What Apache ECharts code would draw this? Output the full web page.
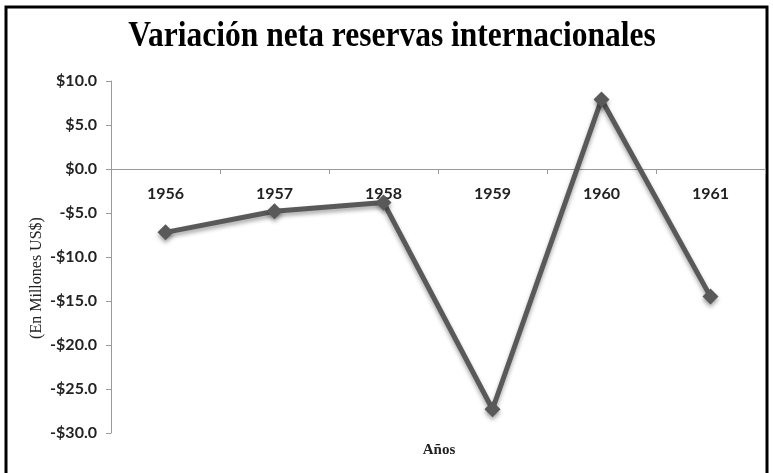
<!DOCTYPE html>
<html>
<head>
<meta charset="utf-8">
<script src="https://cdn.jsdelivr.net/npm/echarts@6/dist/echarts.min.js"></script>
<style>
  html, body { margin: 0; padding: 0; background: #fff; }
  #chart { width: 773px; height: 473px; }
</style>
</head>
<body>
<div id="chart"></div>
<script>
var years = ['1956', '1957', '1958', '1959', '1960', '1961'];
var variacion = [-7.2, -4.8, -3.8, -27.3, 7.9, -14.5];

var chart = echarts.init(document.getElementById('chart'));

function money(v) {
    return (v < 0 ? '-$' : '$') + Math.abs(v).toFixed(1);
}

chart.setOption({
    animation: false,
    backgroundColor: '#fff',
    grid: { left: 111, right: 8, top: 81, bottom: 40 },
    xAxis: {
        type: 'category',
        data: years,
        // the category axis sits on the zero line (264px above the grid bottom)
        offset: -264,
        axisLine: { onZero: false, lineStyle: { color: '#9a9a9a', width: 1 } },
        axisTick: { show: true, length: 5, lineStyle: { color: '#9a9a9a' } },
        axisLabel: {
            margin: 17,
            fontFamily: 'Lato',
            fontWeight: 'bold',
            fontSize: 16,
            color: '#222'
        },
        splitLine: { show: false }
    },
    yAxis: {
        type: 'value',
        min: -30,
        max: 10,
        interval: 5,
        axisLine: { show: true, lineStyle: { color: '#9a9a9a', width: 1 } },
        axisTick: { show: true, length: 5, lineStyle: { color: '#9a9a9a' } },
        axisLabel: {
            margin: 14,
            formatter: money,
            fontFamily: 'Lato',
            fontWeight: 'bold',
            fontSize: 16,
            color: '#222'
        },
        splitLine: { show: false }
    },
    graphic: [
        {
            type: 'rect',
            shape: { x: 6, y: 7, width: 761, height: 480 },
            style: { fill: null, stroke: '#000', lineWidth: 3 },
            silent: true
        },
        {
            // title, a bit condensed like the original
            type: 'text',
            x: 392,
            y: 37,
            scaleX: 0.9,
            style: {
                text: 'Variación neta reservas internacionales',
                fontFamily: 'Liberation Serif',
                fontWeight: 'bold',
                fontSize: 35,
                fill: '#000',
                align: 'center',
                verticalAlign: 'middle'
            }
        },
        {
            type: 'text',
            x: 37,
            y: 278,
            rotation: Math.PI / 2,
            style: {
                text: '(En Millones US$)',
                fontFamily: 'Liberation Serif',
                fontSize: 16,
                fill: '#222',
                align: 'center',
                verticalAlign: 'middle'
            }
        },
        {
            type: 'text',
            x: 439,
            y: 450,
            style: {
                text: 'Años',
                fontFamily: 'Liberation Serif',
                fontWeight: 'bold',
                fontSize: 15,
                fill: '#222',
                align: 'center',
                verticalAlign: 'middle'
            }
        }
    ],
    series: [{
        type: 'line',
        data: variacion,
        symbol: 'diamond',
        symbolSize: 16,
        itemStyle: {
            color: '#595959',
            shadowBlur: 4,
            shadowOffsetY: 3,
            shadowColor: 'rgba(0,0,0,0.35)'
        },
        lineStyle: {
            color: '#595959',
            width: 5,
            shadowBlur: 4,
            shadowOffsetY: 3,
            shadowColor: 'rgba(0,0,0,0.35)'
        }
    }]
});
</script>
</body>
</html>
